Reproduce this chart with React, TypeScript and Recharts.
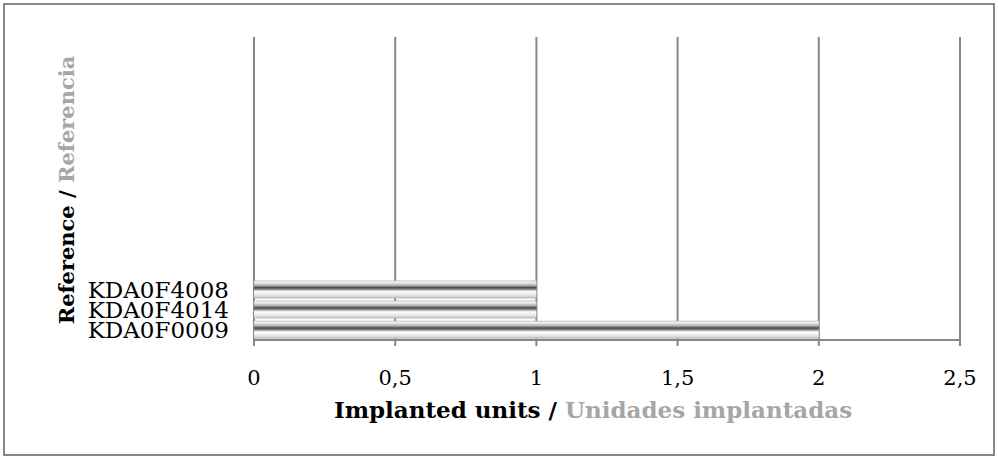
import { BarChart, Bar, XAxis, YAxis, CartesianGrid, Label } from 'recharts';

// 15 category slots on the axis, only the last three are filled
const categories = [
  '', '', '', '', '', '', '', '', '', '', '', '',
  'KDA0F4008',
  'KDA0F4014',
  'KDA0F0009',
];
const units = [
  null, null, null, null, null, null, null, null, null, null, null, null,
  1,
  1,
  2,
];
const xTicks = [0, 0.5, 1, 1.5, 2, 2.5];

const data = categories.map((name, i) => ({ name, value: units[i] }));

const FONT = '"DejaVu Serif", serif';
const GRID = '#878787';
const GREY_TEXT = '#a6a6a6';

function XTitle(props: any) {
  const vb = props.viewBox || {};
  const cx = vb.x + vb.width / 2 - 14;
  return (
    <text x={cx} y={418} textAnchor="middle" fontFamily={FONT} fontWeight="bold" fontSize={23}>
      <tspan fill="#000">Implanted units / </tspan>
      <tspan fill={GREY_TEXT}>Unidades implantadas</tspan>
    </text>
  );
}

function YTitle() {
  return (
    <text
      x={0}
      y={0}
      transform="translate(74, 190) rotate(-90)"
      textAnchor="middle"
      fontFamily={FONT}
      fontWeight="bold"
      fontSize={21}
    >
      <tspan fill="#000">Reference / </tspan>
      <tspan fill={GREY_TEXT}>Referencia</tspan>
    </text>
  );
}

export default function App() {
  return (
    <div style={{ position: 'absolute', left: 0, top: 0, width: 998, height: 459, background: '#fff' }}>
      <div
        style={{
          position: 'absolute',
          left: 3,
          top: 3,
          width: 992,
          height: 453,
          boxSizing: 'border-box',
          border: `2px solid ${GRID}`,
        }}
      />
      <div style={{ position: 'absolute', left: 0, top: 0 }}>
        <BarChart
          width={998}
          height={459}
          data={data}
          layout="vertical"
          margin={{ top: 37, right: 38, left: 0, bottom: 89 }}
          barCategoryGap={1}
        >
          <defs>
            <linearGradient id="barGrad" x1="0" y1="0" x2="0" y2="1">
              <stop offset="0%" stopColor="#bdbdbd" />
              <stop offset="10%" stopColor="#f4f4f4" />
              <stop offset="28%" stopColor="#b0b0b0" />
              <stop offset="40%" stopColor="#4a4a4a" />
              <stop offset="48%" stopColor="#7a7a7a" />
              <stop offset="62%" stopColor="#ffffff" />
              <stop offset="85%" stopColor="#e2e2e2" />
              <stop offset="100%" stopColor="#b5b5b5" />
            </linearGradient>
          </defs>
          <CartesianGrid horizontal={false} stroke={GRID} strokeWidth={2} />
          <XAxis
            type="number"
            domain={[0, 2.5]}
            ticks={xTicks}
            interval={0}
            tickFormatter={(v: number) => String(v).replace('.', ',')}
            stroke={GRID}
            strokeWidth={2}
            tickSize={6}
            tickMargin={24}
            tick={{ fontSize: 21, fill: '#000', fontFamily: FONT }}
          >
            <Label content={XTitle} />
          </XAxis>
          <YAxis
            type="category"
            dataKey="name"
            width={254}
            axisLine={false}
            tickLine={false}
            tickSize={0}
            tickMargin={25}
            interval={0}
            tick={{ fontSize: 23, fill: '#000', fontFamily: FONT }}
          >
            <Label content={YTitle} />
          </YAxis>
          <Bar dataKey="value" fill="url(#barGrad)" barSize={18} isAnimationActive={false} />
        </BarChart>
      </div>
    </div>
  );
}
